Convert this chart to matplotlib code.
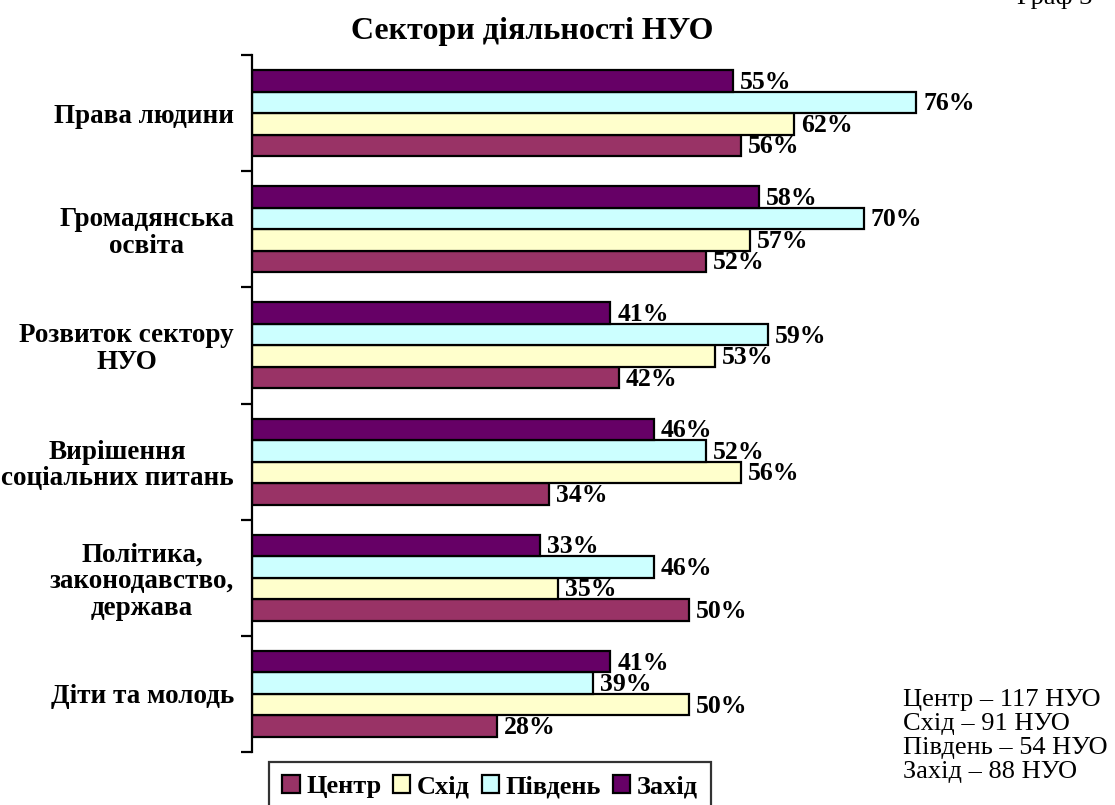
import matplotlib
matplotlib.use("Agg")
import matplotlib.pyplot as plt
import numpy as np

plt.rcParams['font.family'] = ['Liberation Serif', 'DejaVu Serif']

# дані
categories = ["Права людини", "Громадянська\nосвіта", "Розвиток сектору\nНУО",
              "Вирішення\nсоціальних питань", "Політика,\nзаконодавство,\nдержава",
              "Діти та молодь"]
series = ["Центр", "Схід", "Південь", "Захід"]
centr = [56, 52, 42, 34, 50, 28]
skhid = [62, 57, 53, 56, 35, 50]
pivden = [76, 70, 59, 52, 46, 39]
zakhid = [55, 58, 41, 46, 33, 41]
colors = ["#993366", "#FFFFCC", "#CCFFFF", "#660066"]
counts = ["Центр – 117 НУО", "Схід – 91 НУО", "Південь – 54 НУО", "Захід – 88 НУО"]

W, H = 1115, 805
fig = plt.figure(figsize=(W / 100, H / 100), dpi=100)
ax = fig.add_axes([252 / W, (H - 752) / H, 699 / W, 697 / H])

y = np.arange(len(categories))
h = 0.185
values = [centr, skhid, pivden, zakhid]
offsets = [1.5 * h, 0.5 * h, -0.5 * h, -1.5 * h]
for name, vals, col, off in zip(series, values, colors, offsets):
    ax.barh(y + off, vals, height=h, color=col, edgecolor="black",
            linewidth=1.6, label=name)
    for yi, v in zip(y, vals):
        ax.text(v + 0.8, yi + off + 0.012, f"{v}%", va="center", ha="left",
                fontsize=18.5, fontweight="bold")

ax.set_xlim(0, 80)
ax.set_ylim(len(categories) - 0.5, -0.5)
ax.set_yticks(y)
ax.set_yticklabels(categories, fontsize=19.5, fontweight="bold",
                   multialignment="center", linespacing=1.1)
ax.set_yticks(np.arange(len(categories) + 1) - 0.5, minor=True)
ax.tick_params(axis="y", which="major", length=0, pad=13)
ax.tick_params(axis="y", which="minor", length=8, width=1.6, direction="out")
ax.set_xticks([])
for s in ["top", "right", "bottom"]:
    ax.spines[s].set_visible(False)
ax.spines["left"].set_linewidth(1.6)

fig.text(532 / W, 1 - 31 / H, "Сектори діяльності НУО", ha="center", va="center",
         fontsize=23, fontweight="bold")
fig.text(1092 / W, 1 - 4 / H, "Граф 3", ha="right", va="baseline", fontsize=19)

for i, t in enumerate(counts):
    fig.text(903 / W, 1 - (700 + 24 * i) / H, t, ha="left", va="center", fontsize=19)

handles, labels = ax.get_legend_handles_labels()
leg = fig.legend(handles, labels, loc="upper center", ncol=4,
                 bbox_to_anchor=(490 / W, 1 - 762 / H), frameon=True, fancybox=False,
                 edgecolor="black", handlelength=0.65, handleheight=0.65,
                 handletextpad=0.25, columnspacing=0.45, borderpad=0.5,
                 borderaxespad=0, prop={"size": 19, "weight": "bold"})
leg.get_frame().set_linewidth(1.6)

fig.savefig("out.png", dpi=100)
